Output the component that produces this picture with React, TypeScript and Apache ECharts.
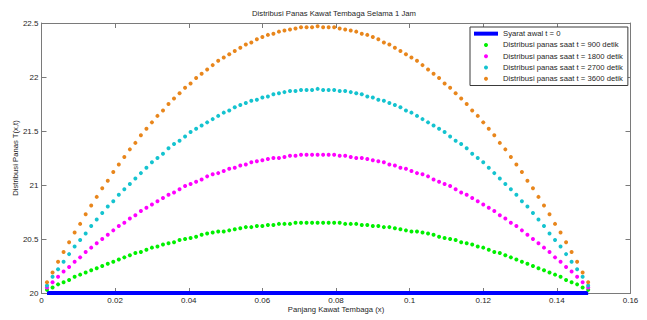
import React, { useEffect, useRef } from "react";
import * as echarts from "echarts";

const positions = [
  0.0015, 0.003, 0.0045, 0.006, 0.0075, 0.009, 0.0105, 0.012, 0.0135, 0.015,
  0.0165, 0.018, 0.0195, 0.021, 0.0225, 0.024, 0.0255, 0.027, 0.0285, 0.03,
  0.0315, 0.033, 0.0345, 0.036, 0.0375, 0.039, 0.0405, 0.042, 0.0435, 0.045,
  0.0465, 0.048, 0.0495, 0.051, 0.0525, 0.054, 0.0555, 0.057, 0.0585, 0.06,
  0.0615, 0.063, 0.0645, 0.066, 0.0675, 0.069, 0.0705, 0.072, 0.0735, 0.075,
  0.0765, 0.078, 0.0795, 0.081, 0.0825, 0.084, 0.0855, 0.087, 0.0885, 0.09,
  0.0915, 0.093, 0.0945, 0.096, 0.0975, 0.099, 0.1005, 0.102, 0.1035, 0.105,
  0.1065, 0.108, 0.1095, 0.111, 0.1125, 0.114, 0.1155, 0.117, 0.1185, 0.12,
  0.1215, 0.123, 0.1245, 0.126, 0.1275, 0.129, 0.1305, 0.132, 0.1335, 0.135,
  0.1365, 0.138, 0.1395, 0.141, 0.1425, 0.144, 0.1455, 0.147, 0.1485,
];

const initialTemp = [
  20, 20, 20, 20, 20, 20, 20, 20, 20, 20,
  20, 20, 20, 20, 20, 20, 20, 20, 20, 20,
  20, 20, 20, 20, 20, 20, 20, 20, 20, 20,
  20, 20, 20, 20, 20, 20, 20, 20, 20, 20,
  20, 20, 20, 20, 20, 20, 20, 20, 20, 20,
  20, 20, 20, 20, 20, 20, 20, 20, 20, 20,
  20, 20, 20, 20, 20, 20, 20, 20, 20, 20,
  20, 20, 20, 20, 20, 20, 20, 20, 20, 20,
  20, 20, 20, 20, 20, 20, 20, 20, 20, 20,
  20, 20, 20, 20, 20, 20, 20, 20, 20,
];

const temp900 = [
  20.03, 20.05, 20.08, 20.10, 20.12, 20.15, 20.17, 20.19, 20.21, 20.23,
  20.25, 20.27, 20.29, 20.31, 20.33, 20.35, 20.37, 20.38, 20.40, 20.42,
  20.43, 20.45, 20.46, 20.47, 20.49, 20.50, 20.51, 20.52, 20.54, 20.55,
  20.56, 20.57, 20.57, 20.58, 20.59, 20.60, 20.61, 20.61, 20.62, 20.62,
  20.63, 20.63, 20.64, 20.64, 20.64, 20.65, 20.65, 20.65, 20.65, 20.65,
  20.65, 20.65, 20.65, 20.65, 20.64, 20.64, 20.64, 20.63, 20.63,
  20.62, 20.62, 20.61, 20.61, 20.60, 20.59, 20.58, 20.57, 20.57, 20.56,
  20.55, 20.54, 20.52, 20.51, 20.50, 20.49, 20.47, 20.46, 20.45, 20.43,
  20.42, 20.40, 20.38, 20.37, 20.35, 20.33, 20.31, 20.29, 20.27, 20.25,
  20.23, 20.21, 20.19, 20.17, 20.15, 20.12, 20.10, 20.08, 20.05, 20.03,
];

const temp1800 = [
  20.05, 20.10, 20.15, 20.20, 20.24, 20.29, 20.33, 20.38, 20.42, 20.46,
  20.50, 20.54, 20.58, 20.62, 20.65, 20.69, 20.72, 20.76, 20.79, 20.82,
  20.85, 20.88, 20.91, 20.93, 20.96, 20.99, 21.01, 21.03, 21.05, 21.08,
  21.10, 21.11, 21.13, 21.15, 21.16, 21.18, 21.19, 21.21, 21.22, 21.23,
  21.24, 21.25, 21.25, 21.26, 21.27, 21.27, 21.28, 21.28, 21.28, 21.28,
  21.28, 21.28, 21.28, 21.27, 21.27, 21.26, 21.25, 21.25, 21.24,
  21.23, 21.22, 21.21, 21.19, 21.18, 21.16, 21.15, 21.13, 21.11, 21.10,
  21.08, 21.05, 21.03, 21.01, 20.99, 20.96, 20.93, 20.91, 20.88, 20.85,
  20.82, 20.79, 20.76, 20.72, 20.69, 20.65, 20.62, 20.58, 20.54, 20.50,
  20.46, 20.42, 20.38, 20.33, 20.29, 20.24, 20.20, 20.15, 20.10, 20.05,
];

const temp2700 = [
  20.07, 20.15, 20.22, 20.29, 20.36, 20.43, 20.49, 20.55, 20.62, 20.68,
  20.74, 20.80, 20.85, 20.91, 20.96, 21.01, 21.06, 21.11, 21.16, 21.21,
  21.25, 21.29, 21.34, 21.38, 21.41, 21.45, 21.49, 21.52, 21.55, 21.58,
  21.61, 21.64, 21.67, 21.69, 21.72, 21.74, 21.76, 21.78, 21.79, 21.81,
  21.82, 21.84, 21.85, 21.86, 21.87, 21.87, 21.88, 21.88, 21.88, 21.89,
  21.88, 21.88, 21.88, 21.87, 21.87, 21.86, 21.85, 21.84, 21.82,
  21.81, 21.79, 21.78, 21.76, 21.74, 21.72, 21.69, 21.67, 21.64, 21.61,
  21.58, 21.55, 21.52, 21.49, 21.45, 21.41, 21.38, 21.34, 21.29, 21.25,
  21.21, 21.16, 21.11, 21.06, 21.01, 20.96, 20.91, 20.85, 20.80, 20.74,
  20.68, 20.62, 20.55, 20.49, 20.43, 20.36, 20.29, 20.22, 20.15, 20.07,
];

const temp3600 = [
  20.10, 20.19, 20.29, 20.38, 20.47, 20.56, 20.64, 20.73, 20.81, 20.89,
  20.97, 21.04, 21.12, 21.19, 21.26, 21.33, 21.39, 21.46, 21.52, 21.58,
  21.64, 21.69, 21.75, 21.80, 21.85, 21.90, 21.94, 21.99, 22.03, 22.07,
  22.11, 22.15, 22.18, 22.21, 22.24, 22.27, 22.30, 22.32, 22.35, 22.37,
  22.39, 22.40, 22.42, 22.43, 22.44, 22.45, 22.46, 22.46, 22.46, 22.47,
  22.46, 22.46, 22.46, 22.45, 22.44, 22.43, 22.42, 22.40, 22.39,
  22.37, 22.35, 22.32, 22.30, 22.27, 22.24, 22.21, 22.18, 22.15, 22.11,
  22.07, 22.03, 21.99, 21.94, 21.90, 21.85, 21.80, 21.75, 21.69, 21.64,
  21.58, 21.52, 21.46, 21.39, 21.33, 21.26, 21.19, 21.12, 21.04, 20.97,
  20.89, 20.81, 20.73, 20.64, 20.56, 20.47, 20.38, 20.29, 20.19, 20.10,
];

const seriesNames = [
  "Syarat awal t = 0",
  "Distribusi panas saat t = 900 detik",
  "Distribusi panas saat t = 1800 detik",
  "Distribusi panas saat t = 2700 detik",
  "Distribusi panas saat t = 3600 detik",
];
const seriesColors = ["#0000ff", "#00f000", "#ff00ff", "#14c3cf", "#e8861c"];

const titleText = "Distribusi Panas Kawat Tembaga Selama 1 Jam";
const xAxisName = "Panjang Kawat Tembaga (x)";
const yAxisName = "Distribusi Panas T(x,t)";

export default function App() {
  const ref = useRef<HTMLDivElement>(null);

  useEffect(() => {
    if (!ref.current) return;
    const chart = echarts.init(ref.current, null, { renderer: "svg" });
    const font = "'Liberation Sans', Arial, sans-serif";
    const textColor = "#262626";
    const lineStyle = { color: "#7a7a7a", width: 1 };
    const pair = (vals: number[]) => positions.map((x, i) => [x, vals[i]]);
    const tempSets = [temp900, temp1800, temp2700, temp3600];

    const baseX = {
      type: "value",
      min: 0,
      max: 0.16,
      interval: 0.02,
      axisLine: { show: true, onZero: false, lineStyle },
      axisTick: { show: true, inside: true, length: 5, lineStyle },
      splitLine: { show: false },
    };
    const baseY = {
      type: "value",
      min: 20,
      max: 22.5,
      interval: 0.5,
      axisLine: { show: true, onZero: false, lineStyle },
      axisTick: { show: true, inside: true, length: 5, lineStyle },
      splitLine: { show: false },
    };

    chart.setOption({
      animation: false,
      backgroundColor: "#ffffff",
      textStyle: { fontFamily: font },
      title: {
        text: titleText,
        left: 334,
        top: 9,
        textAlign: "center",
        padding: 0,
        textStyle: { fontSize: 7.7, fontWeight: "normal", color: textColor, fontFamily: font },
      },
      grid: {
        left: 41.5,
        right: 16.5,
        top: 23,
        bottom: 27,
        containLabel: false,
        outerBoundsMode: "none",
      },
      legend: {
        orient: "vertical",
        left: 470,
        top: 27,
        itemWidth: 24,
        itemHeight: 4,
        itemGap: 0,
        padding: [1, 5, 1, 4],
        borderColor: "#3a3a3a",
        borderWidth: 1,
        borderRadius: 0,
        backgroundColor: "#ffffff",
        selectedMode: false,
        textStyle: { fontSize: 7.7, color: textColor, lineHeight: 11.3, fontFamily: font },
        data: seriesNames.map((n, i) => ({ name: n, icon: i === 0 ? "rect" : "circle" })),
      },
      xAxis: [
        {
          ...baseX,
          position: "bottom",
          axisLabel: { fontSize: 8, color: textColor, margin: 3, fontFamily: font },
          name: xAxisName,
          nameLocation: "middle",
          nameGap: 12,
          nameMoveOverlap: false,
          nameTextStyle: { fontSize: 7.7, color: textColor, fontFamily: font },
        },
        { ...baseX, position: "top", axisLabel: { show: false } },
      ],
      yAxis: [
        {
          ...baseY,
          position: "left",
          axisLabel: { fontSize: 8, color: textColor, margin: 3, fontFamily: font },
          name: yAxisName,
          nameLocation: "middle",
          nameRotate: 90,
          nameGap: 22,
          nameMoveOverlap: false,
          nameTextStyle: { fontSize: 7.7, color: textColor, fontFamily: font },
        },
        { ...baseY, position: "right", axisLabel: { show: false } },
      ],
      series: [
        {
          name: seriesNames[0],
          type: "line",
          data: pair(initialTemp),
          symbol: "none",
          lineStyle: { color: seriesColors[0], width: 4 },
          itemStyle: { color: seriesColors[0] },
          z: 1,
        },
        ...tempSets.map((vals, k) => ({
          name: seriesNames[k + 1],
          type: "scatter",
          data: pair(vals),
          symbol: "circle",
          symbolSize: 4,
          itemStyle: { color: seriesColors[k + 1], opacity: 1 },
          z: 2 + k,
        })),
      ],
    });

    return () => chart.dispose();
  }, []);

  return (
    <div
      ref={ref}
      style={{ position: "fixed", left: 0, top: 0, width: 647, height: 320, background: "#fff" }}
    />
  );
}
